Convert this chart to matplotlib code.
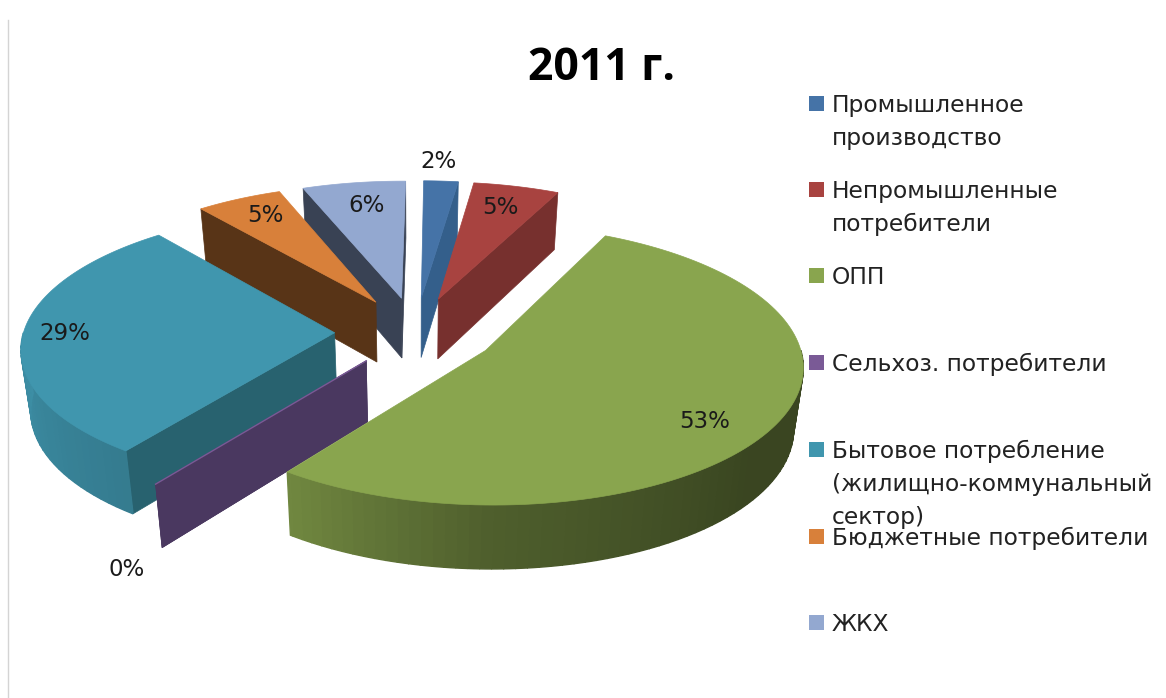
import numpy as np
import matplotlib.pyplot as plt
from matplotlib.colors import to_rgb
from matplotlib.patches import Polygon, Rectangle

plt.rcParams['font.family'] = ['DejaVu Sans']

# Доли потребителей, %
categories = ['Промышленное\nпроизводство', 'Непромышленные\nпотребители', 'ОПП',
              'Сельхоз. потребители', 'Бытовое потребление\n(жилищно-коммунальный\nсектор)',
              'Бюджетные потребители', 'ЖКХ']
values = [2, 5, 53, 0, 29, 5, 6]

top_colors = ['#4573a7', '#a84340', '#89a54e', '#7a5a96', '#4096ae', '#d8803a', '#93a8d0']
wall_colors = ['#345f8b', '#77302e', '#4e5e2c', '#4a3860', '#28626f', '#583417', '#394254']

# Порядок отрисовки секторов: от дальних к ближним
draw_order = [6, 5, 4, 3, 0, 1, 2]

# Положение подписей значений и строк легенды (в пикселях)
label_xy = [(439, 162), (500, 207), (705, 422), (127, 569), (65, 334), (265, 216), (367, 205)]
legend_y = [104, 190, 276, 363, 450, 537, 623]

# Параметры проекции круга
cx, cy = 415.5, 332
rx, ry = 311, 135.2
persp = 0.10
explode = 0.26
start_angle = 0.6


def project(X, Y, bottom=False):
    w = 1 + persp * Y
    x = cx + rx * X / w
    y = cy - ry * Y / w
    if bottom:
        x = cx + (x - cx) * 0.975
        y = y + 60.5 - 3 * Y
    return np.column_stack([x, y])


def rim_shade(theta):
    return np.interp(theta, [130, 180, 216, 270], [0.42, 0.57, 0.82, 0.95])


def wall_visible(tip, end, inner):
    # Стенка видна, если грань сектора лежит выше ребра на экране
    ex, ey = end - tip
    side_inner = ex * (inner[1] - tip[1]) - ey * (inner[0] - tip[0])
    side_down = ex * 1.0
    return side_inner * side_down < 0


fig = plt.figure(figsize=(11.66, 6.98), dpi=100)
ax = fig.add_axes([0, 0, 1, 1])
ax.set_xlim(0, 1166)
ax.set_ylim(698, 0)
ax.axis('off')

# Левая граница области диаграммы
ax.plot([7.5, 7.5], [20, 698], color='#d4d4d4', lw=1)

total = sum(values)
edges = start_angle + np.cumsum([0] + values) * 360 / total

for i in draw_order:
    a, b = edges[i], edges[i + 1]
    mid = np.radians((a + b) / 2)
    ox, oy = explode * np.sin(mid), explode * np.cos(mid)
    color = top_colors[i]
    inner = project(np.array([ox + 0.6 * np.sin(mid)]), np.array([oy + 0.6 * np.cos(mid)]))[0]

    # Боковые стенки вдоль радиусов, только обращённые к зрителю
    for t in (a, b):
        r = np.radians(t)
        X = np.array([ox, ox + np.sin(r)])
        Y = np.array([oy, oy + np.cos(r)])
        top = project(X, Y)
        if values[i] > 0 and not wall_visible(top[0], top[1], inner):
            continue
        pts = np.vstack([top, project(X, Y, True)[::-1]])
        ax.add_patch(Polygon(pts, fc=wall_colors[i], ec=wall_colors[i], lw=0.5))

    if values[i] == 0:
        r = np.radians(a)
        X = np.array([ox, ox + np.sin(r)])
        Y = np.array([oy, oy + np.cos(r)])
        ax.plot(*project(X, Y).T, color=color, lw=1)
        continue

    # Внешняя стенка: только передняя половина окружности
    lo, hi = max(a, 90), min(b, 270)
    if lo < hi:
        thetas = np.append(np.arange(lo, hi, 2.0), hi)
        for t0, t1 in zip(thetas[:-1], thetas[1:]):
            r = np.radians(np.linspace(t0, t1, 3))
            X, Y = ox + np.sin(r), oy + np.cos(r)
            pts = np.vstack([project(X, Y), project(X, Y, True)[::-1]])
            shade = rim_shade((t0 + t1) / 2)
            c = tuple(v * shade for v in to_rgb(color))
            ax.add_patch(Polygon(pts, fc=c, ec=c, lw=1))

    # Верхняя грань сектора
    r = np.radians(np.linspace(a, b, 120))
    X = np.concatenate([[ox], ox + np.sin(r)])
    Y = np.concatenate([[oy], oy + np.cos(r)])
    ax.add_patch(Polygon(project(X, Y), fc=color, ec=color, lw=0.5))

# Подписи значений
for v, (x, y) in zip(values, label_xy):
    ax.text(x, y, f'{v}%', ha='center', va='center', fontsize=16.5, color='#1a1a1a')

ax.text(601.5, 79.5, '2011 г.', ha='center', va='baseline', family='Open Sans', fontsize=32,
        fontweight='bold', color='black')

# Легенда
for name, color, y in zip(categories, top_colors, legend_y):
    ax.add_patch(Rectangle((809, y - 8), 15, 15, fc=color, ec='none'))
    for n, line in enumerate(name.split('\n')):
        ax.text(832, y + 8 + n * 33, line, ha='left', va='baseline', fontsize=16.8, color='#222222')

fig.savefig('out.png', dpi=100)
